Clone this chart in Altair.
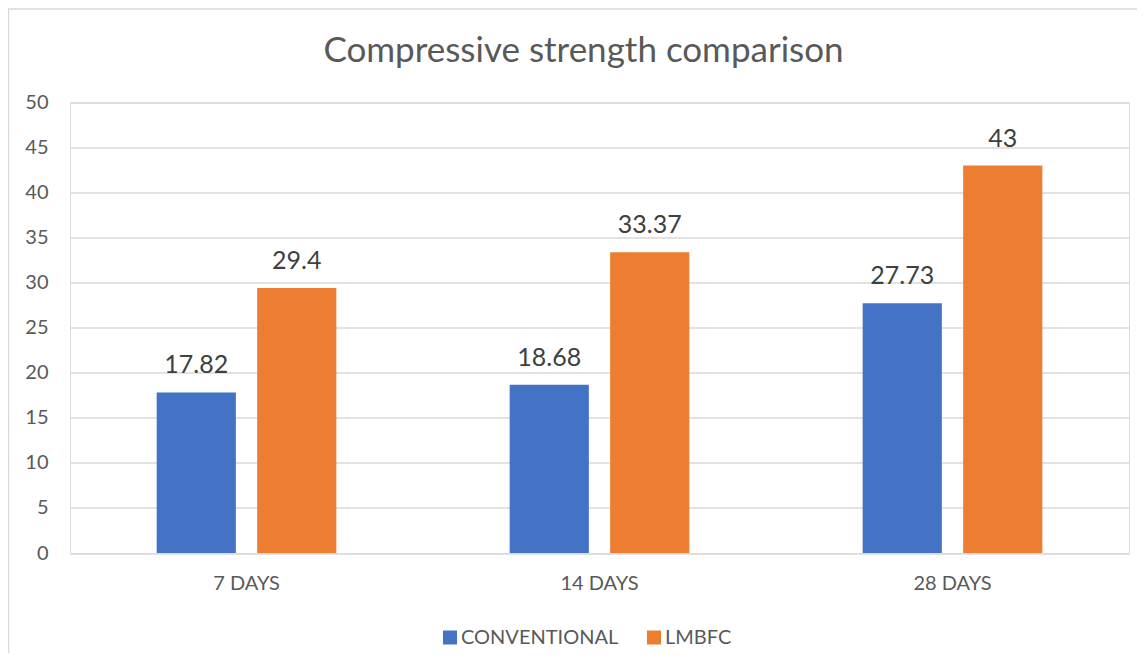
import altair as alt
import pandas as pd

categories = ["7 DAYS", "14 DAYS", "28 DAYS"]
series_names = ["CONVENTIONAL", "LMBFC"]
conventional = [17.82, 18.68, 27.73]
lmbfc = [29.4, 33.37, 43]
y_ticks = [0, 5, 10, 15, 20, 25, 30, 35, 40, 45, 50]
series_colors = ["#4472C4", "#ED7D31"]
title_text = "Compressive strength comparison"

rows = []
for i, c in enumerate(categories):
    for s, vals in zip(series_names, [conventional, lmbfc]):
        rows.append({"period": c, "series": s, "value": vals[i], "label": f"{vals[i]:g}"})
df = pd.DataFrame(rows)

FONT = "Lato"

x_enc = alt.X("period:N", sort=categories,
              scale=alt.Scale(paddingInner=0.491, paddingOuter=0.2455),
              axis=alt.Axis(title=None, domain=False, ticks=False, labelAngle=0,
                            labelFontSize=20, labelColor="#595959", labelFont=FONT,
                            labelPadding=20))
xoff = alt.XOffset("series:N", sort=series_names,
                   scale=alt.Scale(paddingInner=0.212, paddingOuter=0))
y_enc = alt.Y("value:Q", scale=alt.Scale(domain=[0, 50], nice=False),
              axis=alt.Axis(title=None, values=y_ticks, domain=False, ticks=False,
                            grid=True, gridColor="#d9d9d9", gridWidth=1.5,
                            labelFontSize=20, labelColor="#595959", labelFont=FONT,
                            labelPadding=22))

base = alt.Chart(df)

bars = base.mark_bar().encode(
    x=x_enc, xOffset=xoff, y=y_enc,
    color=alt.Color("series:N", sort=series_names,
                    scale=alt.Scale(domain=series_names, range=series_colors),
                    legend=alt.Legend(title=None, orient="none", direction="horizontal",
                                      legendX=370, legendY=525,
                                      symbolType="square", symbolSize=196,
                                      symbolStrokeWidth=0, labelFontSize=20,
                                      labelFont=FONT, labelColor="#595959",
                                      labelOffset=1, columnPadding=25, labelLimit=400)),
)

labels = base.mark_text(dy=-19, baseline="alphabetic", fontSize=25, color="#404040",
                        font=FONT).encode(
    x=alt.X("period:N", sort=categories), xOffset=alt.XOffset("series:N", sort=series_names),
    y="value:Q", text="label:N")

one = alt.Chart(pd.DataFrame({"t": [title_text]}))
title = one.mark_text(fontSize=35, font=FONT, color="#595959", baseline="alphabetic",
                      align="center").encode(
    x=alt.value(513.5), y=alt.value(-40.5), text="t:N")

left_border = one.mark_rule(color="#d9d9d9", strokeWidth=1.5).encode(
    x=alt.value(-61.5), y=alt.value(-94), y2=alt.value(560))
top_border = one.mark_rule(color="#d9d9d9", strokeWidth=1.5).encode(
    x=alt.value(-62), x2=alt.value(1070), y=alt.value(-93.5))

chart = alt.layer(bars, labels, title, left_border, top_border).properties(
    width=1059, height=450.5,
    autosize=alt.AutoSizeParams(type="none"),
    padding={"left": 62, "top": 94.5, "right": 8, "bottom": 100},
).configure_view(stroke=None).configure(background="white")

chart.save("out.html", embed_options={"renderer": "svg", "actions": False})
